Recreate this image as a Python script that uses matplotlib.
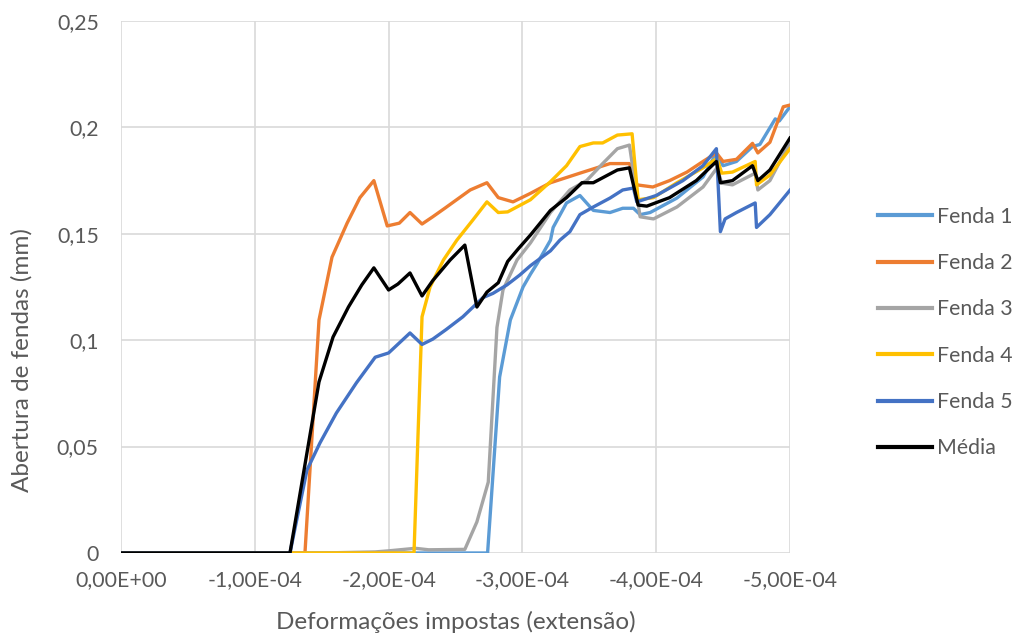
import numpy as np
import matplotlib
matplotlib.use("Agg")
import matplotlib.pyplot as plt
from matplotlib.ticker import FuncFormatter, MultipleLocator

plt.rcParams["font.family"] = ["Lato", "DejaVu Sans"]

# strains in units of 1e-4 (negative = extension), crack openings in mm
x_f1 = [0, -2.74, -2.83, -2.91, -3.005, -3.06, -3.11, -3.21, -3.23, -3.33, -3.43, -3.53, -3.655, -3.75, -3.83,
        -3.88, -3.955, -4.155, -4.35, -4.45, -4.50, -4.60, -4.72, -4.775, -4.89, -4.92, -5.0]
y_f1 = [0, 0, 0.0827, 0.1095, 0.125, 0.131, 0.136, 0.147, 0.153, 0.1645, 0.168, 0.161, 0.160, 0.162, 0.162,
        0.159, 0.160, 0.1668, 0.1767, 0.188, 0.182, 0.184, 0.191, 0.192, 0.204, 0.203, 0.2097]

x_f2 = [0, -1.375, -1.48, -1.577, -1.69, -1.786, -1.89, -1.99, -2.08, -2.16, -2.25, -2.33, -2.42, -2.61, -2.735,
        -2.82, -2.93, -3.06, -3.21, -3.43, -3.655, -3.80, -3.856, -3.975, -4.10, -4.23, -4.35, -4.45, -4.50,
        -4.60, -4.72, -4.76, -4.85, -4.95, -5.0]
y_f2 = [0, 0, 0.1095, 0.139, 0.155, 0.167, 0.175, 0.1537, 0.155, 0.16, 0.1546, 0.158, 0.162, 0.1706, 0.174,
        0.167, 0.165, 0.169, 0.174, 0.1785, 0.183, 0.183, 0.173, 0.172, 0.175, 0.179, 0.184, 0.188, 0.184,
        0.185, 0.1925, 0.188, 0.193, 0.2097, 0.2105]

x_f3 = [0, -1.5, -1.9, -2.0, -2.2, -2.3, -2.57, -2.66, -2.745, -2.81, -2.855, -2.96, -3.06, -3.21, -3.355,
        -3.48, -3.60, -3.71, -3.80, -3.88, -3.98, -4.155, -4.35, -4.455, -4.49, -4.57, -4.74, -4.76, -4.85, -5.0]
y_f3 = [0, 0, 0.0005, 0.001, 0.0022, 0.0015, 0.0017, 0.0146, 0.0333, 0.106, 0.1236, 0.1377, 0.1457, 0.160, 0.1706,
        0.175, 0.183, 0.190, 0.1917, 0.158, 0.157, 0.1626, 0.172, 0.181, 0.1738, 0.173, 0.1785, 0.1706, 0.175, 0.193]

x_f4 = [0, -2.19, -2.25, -2.31, -2.41, -2.51, -2.63, -2.735, -2.82, -2.89, -3.06, -3.21, -3.33, -3.43, -3.53,
        -3.60, -3.71, -3.82, -3.865, -3.98, -4.155, -4.35, -4.455, -4.49, -4.57, -4.74, -4.75, -4.85, -5.0]
y_f4 = [0, 0, 0.111, 0.125, 0.1377, 0.147, 0.1565, 0.165, 0.160, 0.1603, 0.166, 0.1745, 0.182, 0.191, 0.1927,
        0.1927, 0.1964, 0.197, 0.166, 0.167, 0.174, 0.181, 0.1855, 0.1785, 0.179, 0.184, 0.173, 0.1776, 0.190]

x_f5 = [0, -1.263, -1.39, -1.487, -1.61, -1.76, -1.90, -2.0, -2.16, -2.25, -2.33, -2.43, -2.555, -2.705, -2.78,
        -2.885, -2.98, -3.06, -3.21, -3.28, -3.355, -3.43, -3.53, -3.655, -3.75, -3.83, -3.855, -4.0, -4.2,
        -4.35, -4.45, -4.48, -4.515, -4.60, -4.74, -4.75, -4.85, -5.0]
y_f5 = [0, 0, 0.039, 0.0517, 0.0658, 0.080, 0.092, 0.094, 0.1034, 0.098, 0.1005, 0.105, 0.111, 0.120, 0.122,
        0.126, 0.1306, 0.135, 0.142, 0.147, 0.151, 0.159, 0.1626, 0.1668, 0.1706, 0.1715, 0.165, 0.168, 0.175,
        0.182, 0.190, 0.151, 0.157, 0.160, 0.1645, 0.153, 0.159, 0.1705]

x_med = [0, -1.263, -1.48, -1.585, -1.70, -1.80, -1.89, -2.0, -2.07, -2.16, -2.25, -2.33, -2.46, -2.57, -2.66,
         -2.735, -2.82, -2.89, -2.97, -3.06, -3.21, -3.33, -3.445, -3.53, -3.71, -3.80, -3.865, -3.93, -4.10,
         -4.30, -4.45, -4.48, -4.57, -4.72, -4.76, -4.85, -5.0]
y_med = [0, 0, 0.0804, 0.1015, 0.1156, 0.126, 0.134, 0.1236, 0.1264, 0.1316, 0.1208, 0.128, 0.1377, 0.1447, 0.1156,
         0.1226, 0.127, 0.137, 0.143, 0.1494, 0.161, 0.167, 0.174, 0.174, 0.180, 0.181, 0.1635, 0.163, 0.167,
         0.175, 0.184, 0.174, 0.175, 0.182, 0.175, 0.18, 0.195]

series = [
    ("Fenda 1", x_f1, y_f1, "#5B9BD5"),
    ("Fenda 2", x_f2, y_f2, "#ED7D31"),
    ("Fenda 3", x_f3, y_f3, "#A5A5A5"),
    ("Fenda 4", x_f4, y_f4, "#FFC000"),
    ("Fenda 5", x_f5, y_f5, "#4472C4"),
    ("Média", x_med, y_med, "black"),
]

fig = plt.figure(figsize=(10.15, 6.37), dpi=100)
ax = fig.add_axes([0.1192, 0.1319, 0.6591, 0.8351])

for name, xs, ys, col in series:
    ax.plot(np.array(xs) * 1e-4, ys, color=col, lw=2.4, label=name, solid_joinstyle="round")

ax.set_xlim(0, -5e-4)
ax.set_ylim(0, 0.25)
ax.xaxis.set_major_locator(MultipleLocator(1e-4))
ax.yaxis.set_major_locator(MultipleLocator(0.05))
ax.xaxis.set_major_formatter(FuncFormatter(lambda v, p: f"{v:.2E}".replace(".", ",").replace("-0,00", "0,00")))
ax.yaxis.set_major_formatter(FuncFormatter(lambda v, p: f"{v:g}".replace(".", ",")))

txt = "#595959"
ax.grid(True, color="#D9D9D9", lw=1.2)
ax.set_axisbelow(True)
for s in ax.spines.values():
    s.set_visible(False)
ax.tick_params(length=0, labelsize=15.3, colors=txt)
ax.tick_params(axis="y", pad=16)
ax.tick_params(axis="x", pad=12)
ax.set_xlabel("Deformações impostas (extensão)", fontsize=17.5, color=txt)
ax.set_ylabel("Abertura de fendas (mm)", fontsize=17.5, color=txt)
ax.xaxis.set_label_coords(0.5, -0.13)
ax.yaxis.set_label_coords(-0.148, 0.363)
ax.xaxis.label.set_verticalalignment("center")
ax.yaxis.label.set_verticalalignment("center")

leg = ax.legend(loc="center left", bbox_to_anchor=(0.865, 0.478), bbox_transform=fig.transFigure,
                frameon=False, fontsize=15.3, labelcolor=txt, handlelength=2.54, handletextpad=0.24,
                labelspacing=1.24, borderpad=0, borderaxespad=0)
for ln in leg.get_lines():
    ln.set_linewidth(3)

fig.savefig("out.png", dpi=100)
